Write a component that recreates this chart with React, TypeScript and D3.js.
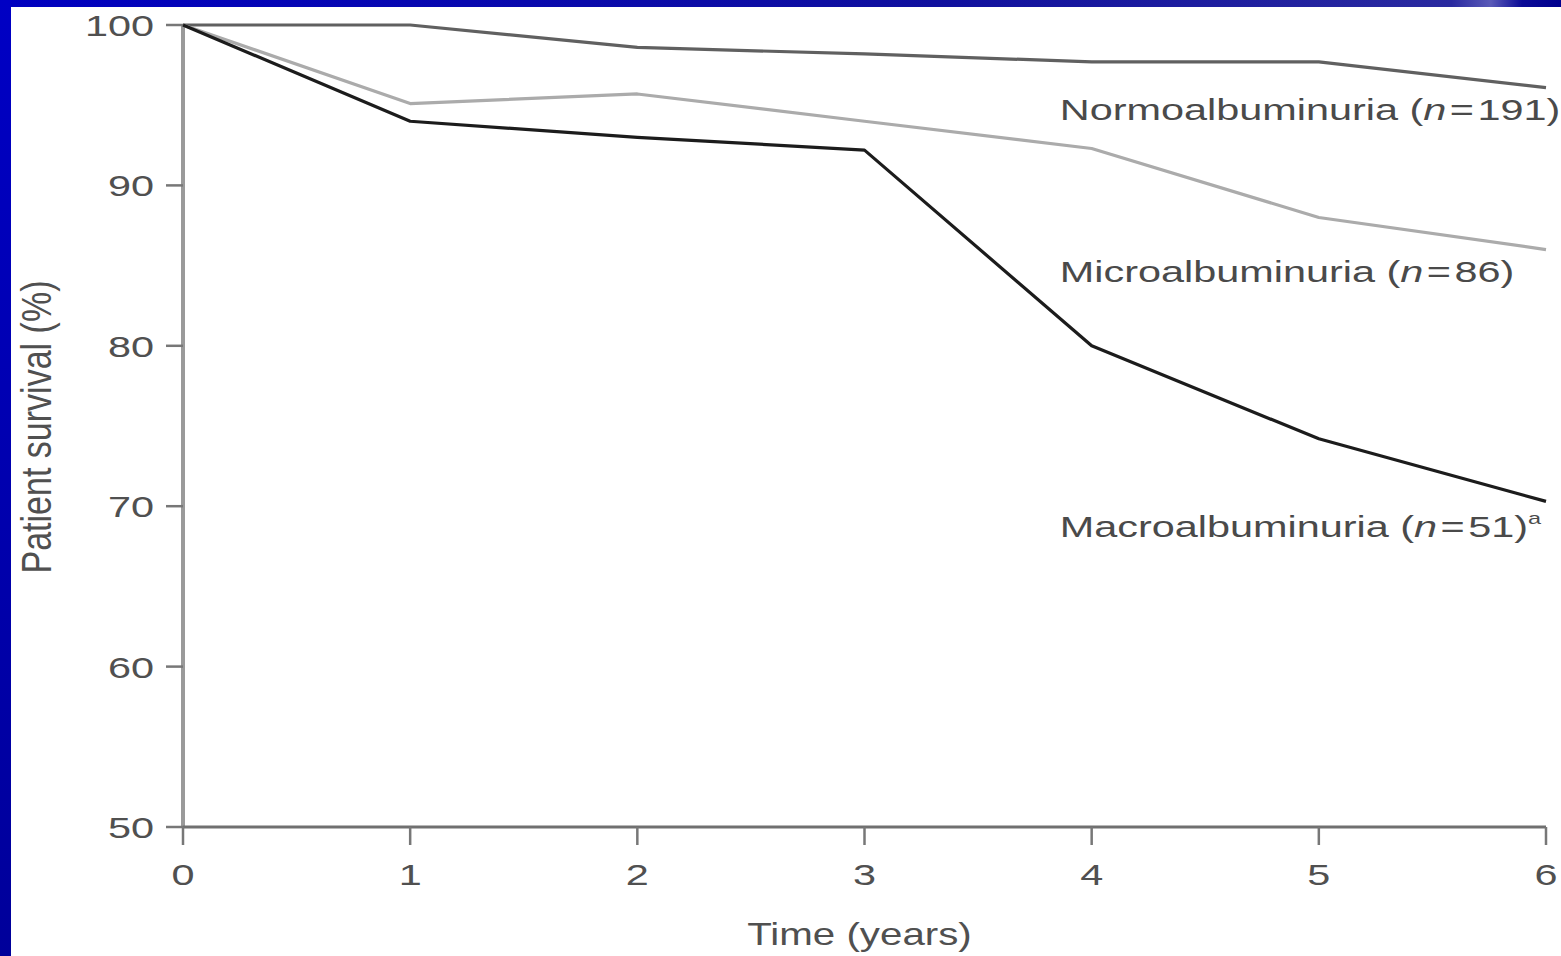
import React, {FC, useEffect} from 'react';
import * as d3 from 'd3';

const years = [0, 1, 2, 3, 4, 5, 6];
const normoValues = [100, 100, 98.6, 98.2, 97.7, 97.7, 96.1];
const microValues = [100, 95.1, 95.7, 94.0, 92.3, 88.0, 86.0];
const macroValues = [100, 94.0, 93.0, 92.2, 80.0, 74.2, 70.3];
const yTicks = [50, 60, 70, 80, 90, 100];

const seriesNames = ['Normoalbuminuria', 'Microalbuminuria', 'Macroalbuminuria'];
const seriesCounts = ['191', '86', '51'];
const seriesNotes = ['', '', 'a'];
// where each label sits, in data units (year, %)
const labelYears = [3.86, 3.86, 3.86];
const labelValues = [94.1, 84.0, 68.1];

const W = 1561;
const H = 956;
const SX = 1.38; // the source picture is stretched sideways
const FONT = '"Liberation Sans", Arial, sans-serif';

const lineColors = ['#606060', '#ababab', '#1c1c1c'];

const App: FC = () => {
  useEffect(() => {
    document.body.style.margin = '0';
  }, []);

  const x = d3.scaleLinear().domain([0, 6]).range([183, 1546]);
  const y = d3.scaleLinear().domain([50, 100]).range([827, 25]);

  const line = d3
    .line<number>()
    .x((_, i) => x(years[i]))
    .y(d => y(d));

  const series = [normoValues, microValues, macroValues];

  return (
    <svg width={W} height={H} style={{display: 'block'}} fontFamily={FONT}>
      <defs>
        <linearGradient id="leftBar" x1="0" y1="0" x2="0" y2="1">
          <stop offset="0" stopColor="#0000c4" />
          <stop offset="1" stopColor="#00009a" />
        </linearGradient>
        <linearGradient id="topBar" x1="0" y1="0" x2="1" y2="0">
          <stop offset="0" stopColor="#0000c0" />
          <stop offset="0.6" stopColor="#10109e" />
          <stop offset="0.93" stopColor="#2a2aa0" />
          <stop offset="0.955" stopColor="#5a5ab8" />
          <stop offset="0.975" stopColor="#0a0a96" />
          <stop offset="1" stopColor="#00008e" />
        </linearGradient>
      </defs>
      <rect width={W} height={H} fill="#ffffff" />
      <rect x={0} y={0} width={W} height={7} fill="url(#topBar)" />
      <rect x={0} y={0} width={11} height={H} fill="url(#leftBar)" />

      {/* axes */}
      <line x1={x(0)} x2={x(0)} y1={y(100)} y2={y(50)} stroke="#9a9a9a" strokeWidth={4} />
      <line x1={x(0)} x2={x(6)} y1={y(50)} y2={y(50)} stroke="#707070" strokeWidth={3} />
      {yTicks.map(t => (
        <g key={'y' + t}>
          <line x1={x(0) - 17} x2={x(0)} y1={y(t)} y2={y(t)} stroke="#777" strokeWidth={2.5} />
          <text
            transform={`translate(${x(0) - 29},${y(t) + 11}) scale(${SX},1)`}
            textAnchor="end"
            fontSize={30}
            fill="#505050">
            {t}
          </text>
        </g>
      ))}
      {years.map(t => (
        <g key={'x' + t}>
          <line x1={x(t)} x2={x(t)} y1={y(50)} y2={y(50) + 18} stroke="#777" strokeWidth={2.5} />
          <text
            transform={`translate(${x(t)},${y(50) + 58}) scale(${SX},1)`}
            textAnchor="middle"
            fontSize={30}
            fill="#505050">
            {t}
          </text>
        </g>
      ))}
      <text
        transform={`translate(${(x(0) + x(6)) / 2 - 5},945) scale(1.3,1)`}
        textAnchor="middle"
        fontSize={31}
        fill="#505050">
        Time (years)
      </text>
      <text
        transform={`translate(51,${(y(50) + y(100)) / 2 + 1}) scale(1.35,1) rotate(-90)`}
        textAnchor="middle"
        fontSize={31}
        fill="#505050"
        textLength={293}
        lengthAdjust="spacingAndGlyphs">
        Patient survival (%)
      </text>

      {/* survival lines */}
      {series.map((vals, i) => (
        <path
          key={'s' + i}
          d={line(vals) || ''}
          fill="none"
          stroke={lineColors[i]}
          strokeWidth={3.2}
          strokeLinejoin="round"
        />
      ))}

      {/* labels */}
      {seriesNames.map((name, i) => (
        <text
          key={'l' + i}
          transform={`translate(${x(labelYears[i])},${y(labelValues[i])}) scale(${SX},1)`}
          fontSize={30}
          fill="#4a4a4a">
          {name} (<tspan fontStyle="italic">n</tspan>{'\u200A=\u200A'}{seriesCounts[i]})
          {seriesNotes[i] && (
            <tspan fontSize={17} dy={-13}>
              {seriesNotes[i]}
            </tspan>
          )}
        </text>
      ))}
    </svg>
  );
};

export default App;
